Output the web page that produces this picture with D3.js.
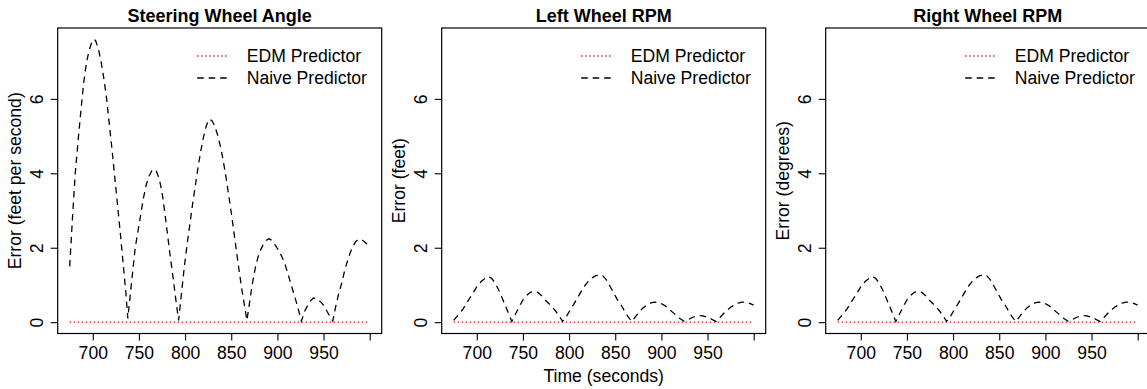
<!DOCTYPE html>
<html>
<head>
<meta charset="utf-8">
<script src="https://cdn.jsdelivr.net/npm/d3@7"></script>
<style>
  body { margin: 0; background: #fff; }
  svg text { font-family: "Liberation Sans", Arial, sans-serif; fill: #000; }
</style>
</head>
<body>
<svg id="chart" width="1147" height="389"></svg>
<script>
// naive predictor error, steering wheel panel
const steerTime = [
  675, 678, 681, 684, 687, 690, 693, 696, 699, 701, 703, 706, 709, 712, 715, 718, 721, 724, 727, 730, 733, 736, 738,
  740, 743, 746, 749, 752, 755, 758, 761, 764, 766, 769, 772, 775, 778, 781, 784, 787, 790, 793,
  796, 799, 802, 805, 808, 811, 814, 817, 820, 823, 826, 829, 832, 835, 838, 841, 844, 847, 850, 853, 856, 859, 862, 865, 867,
  870, 873, 876, 879, 882, 885, 888, 891, 894, 897, 900, 903, 906, 909, 912, 915, 918, 921, 924, 926,
  930, 935, 939, 943, 948, 951, 954, 957, 960,
  963, 966, 970, 973, 976, 979, 982, 985, 988, 991, 994, 997, 1000,
];
const steerNaive = [
  1.5, 2.8, 4.0, 4.85, 5.65, 6.4, 6.95, 7.3, 7.53, 7.6, 7.57, 7.35, 7.0, 6.55, 6.0, 5.3, 4.6, 3.85, 3.1, 2.35, 1.55, 0.75, 0.1,
  0.6, 1.3, 2.0, 2.45, 2.9, 3.35, 3.7, 3.92, 4.07, 4.11, 4.05, 3.85, 3.5, 2.95, 2.35, 1.75, 1.2, 0.6, 0.05,
  0.75, 1.45, 2.05, 2.6, 3.15, 3.65, 4.15, 4.6, 4.98, 5.28, 5.45, 5.42, 5.28, 5.05, 4.75, 4.38, 3.95, 3.45, 2.95, 2.4, 1.85, 1.3, 0.8, 0.35, 0.05,
  0.55, 1.05, 1.45, 1.75, 1.95, 2.1, 2.2, 2.24, 2.2, 2.1, 1.98, 1.85, 1.7, 1.5, 1.25, 1.0, 0.75, 0.5, 0.22, 0.03,
  0.32, 0.55, 0.65, 0.63, 0.52, 0.42, 0.28, 0.15, 0.03,
  0.4, 0.72, 1.08, 1.4, 1.65, 1.87, 2.05, 2.17, 2.23, 2.22, 2.17, 2.1, 2.02,
];

// naive predictor error, wheel rpm panels (left and right look the same)
const wheelTime = [
  675, 680, 685, 690, 695, 700, 705, 710, 713, 716, 720, 724, 728, 732, 735, 738,
  742, 746, 750, 754, 758, 762, 766, 770, 774, 778, 782, 786, 790, 793,
  797, 801, 805, 809, 813, 817, 821, 825, 829, 833, 836, 840, 844, 848, 852, 856, 860, 864, 868,
  872, 876, 880, 884, 888, 892, 896, 900, 904, 908, 912, 916, 920, 925,
  929, 933, 937, 941, 945, 949, 953, 956, 959,
  963, 967, 971, 975, 979, 983, 987, 991, 995, 1000,
];
const leftNaive = [
  0.05, 0.2, 0.35, 0.55, 0.75, 0.95, 1.1, 1.2, 1.22, 1.18, 1.05, 0.85, 0.62, 0.38, 0.2, 0.02,
  0.22, 0.42, 0.6, 0.72, 0.8, 0.83, 0.8, 0.72, 0.6, 0.5, 0.4, 0.28, 0.14, 0.02,
  0.15, 0.32, 0.48, 0.65, 0.82, 0.98, 1.1, 1.19, 1.25, 1.27, 1.26, 1.15, 0.98, 0.8, 0.62, 0.48, 0.3, 0.14, 0.02,
  0.15, 0.28, 0.38, 0.46, 0.51, 0.54, 0.53, 0.5, 0.44, 0.36, 0.27, 0.18, 0.1, 0.02,
  0.07, 0.12, 0.16, 0.18, 0.17, 0.14, 0.1, 0.06, 0.02,
  0.12, 0.22, 0.32, 0.4, 0.46, 0.51, 0.54, 0.54, 0.51, 0.46,
];
const rightNaive = [
  0.05, 0.2, 0.35, 0.55, 0.75, 0.95, 1.1, 1.2, 1.22, 1.18, 1.05, 0.85, 0.62, 0.38, 0.2, 0.02,
  0.22, 0.42, 0.6, 0.72, 0.8, 0.83, 0.8, 0.72, 0.6, 0.5, 0.4, 0.28, 0.14, 0.02,
  0.15, 0.32, 0.48, 0.65, 0.82, 0.98, 1.1, 1.19, 1.25, 1.27, 1.26, 1.15, 0.98, 0.8, 0.62, 0.48, 0.3, 0.14, 0.02,
  0.15, 0.28, 0.38, 0.46, 0.51, 0.54, 0.53, 0.5, 0.44, 0.36, 0.27, 0.18, 0.1, 0.02,
  0.07, 0.12, 0.16, 0.18, 0.17, 0.14, 0.1, 0.06, 0.02,
  0.12, 0.22, 0.32, 0.4, 0.46, 0.51, 0.54, 0.54, 0.51, 0.46,
];

// EDM predictor sits on zero the whole time
const edmTime = [675, 700, 750, 800, 850, 900, 950, 1000];
const edmError = [0, 0, 0, 0, 0, 0, 0, 0];

const titles = ["Steering Wheel Angle", "Left Wheel RPM", "Right Wheel RPM"];
const yLabels = ["Error (feet per second)", "Error (feet)", "Error (degrees)"];
const naiveSeries = [steerNaive, leftNaive, rightNaive];
const naiveTimes = [steerTime, wheelTime, wheelTime];
const xTicks = [700, 750, 800, 850, 900, 950, 1000];
const xTickLabels = ["700", "750", "800", "850", "900", "950", ""];
const yTicks = [0, 2, 4, 6];
const legendNames = ["EDM Predictor", "Naive Predictor"];

const PANEL_LEFT = [57.7, 441.7, 825.7];
const PLOT_W = 324;
const TOP = 28;
const BOTTOM = 333.5;
const TICK = 7;
const FONT = 17.6;
const DASHED = "6.5,5";
const DOTTED = "1.3,2.7";

const svg = d3.select("#chart");

// R style 4% padding on the ranges
const xMin = 675, xMax = 1000;
const xPad = (xMax - xMin) * 0.04;
const yMax = d3.max(naiveSeries.flat());
const yPad = yMax * 0.04;

titles.forEach((title, i) => {
  const left = PANEL_LEFT[i];
  const x = d3.scaleLinear().domain([xMin - xPad, xMax + xPad]).range([left, left + PLOT_W]);
  const y = d3.scaleLinear().domain([-yPad, yMax + yPad]).range([BOTTOM, TOP]);
  const g = svg.append("g");

  // box
  g.append("rect")
    .attr("x", left).attr("y", TOP)
    .attr("width", PLOT_W).attr("height", BOTTOM - TOP)
    .attr("fill", "none").attr("stroke", "#000").attr("stroke-width", 1.2);

  // x axis
  const xAxis = g.append("g")
    .attr("transform", `translate(0,${BOTTOM})`)
    .call(d3.axisBottom(x).tickValues(xTicks).tickSize(TICK).tickPadding(6)
      .tickFormat((d, k) => xTickLabels[k]));
  xAxis.select(".domain").remove();
  xAxis.selectAll("line").attr("stroke", "#000").attr("stroke-width", 1.1);
  xAxis.selectAll("text").attr("font-size", FONT).attr("font-family", null).attr("fill", "#000");

  // y axis, labels turned like R
  const yAxis = g.append("g")
    .attr("transform", `translate(${left},0)`)
    .call(d3.axisLeft(y).tickValues(yTicks).tickSize(TICK).tickFormat(d3.format("d")));
  yAxis.select(".domain").remove();
  yAxis.selectAll("line").attr("stroke", "#000").attr("stroke-width", 1.1);
  yAxis.selectAll("text")
    .attr("font-size", FONT).attr("font-family", null).attr("fill", "#000")
    .attr("x", null).attr("dy", null)
    .attr("text-anchor", "middle")
    .attr("dominant-baseline", "central")
    .attr("transform", "translate(-21,0) rotate(-90)");

  // title and y label
  g.append("text")
    .attr("x", left + PLOT_W / 2).attr("y", 22)
    .attr("text-anchor", "middle")
    .attr("font-size", 18).attr("font-weight", "bold")
    .text(title);

  g.append("text")
    .attr("transform", `translate(${left - 43},${(TOP + BOTTOM) / 2}) rotate(-90)`)
    .attr("text-anchor", "middle")
    .attr("dominant-baseline", "central")
    .attr("font-size", FONT)
    .text(yLabels[i]);

  // lines
  const line = d3.line().x((d) => x(d[0])).y((d) => y(d[1]));

  g.append("path")
    .datum(edmTime.map((t, k) => [t, edmError[k]]))
    .attr("d", line)
    .attr("fill", "none").attr("stroke", "#ff0000")
    .attr("stroke-width", 1.3).attr("stroke-dasharray", DOTTED);

  g.append("path")
    .datum(naiveTimes[i].map((t, k) => [t, naiveSeries[i][k]]))
    .attr("d", line)
    .attr("fill", "none").attr("stroke", "#000")
    .attr("stroke-width", 1.3).attr("stroke-dasharray", DASHED);

  // legend, no box
  const legend = g.selectAll(".legend")
    .data(legendNames)
    .join("g")
    .attr("transform", (d, k) => `translate(${left + 139.5},${56 + k * 22})`);

  legend.append("line")
    .attr("x1", 0).attr("x2", 32)
    .attr("stroke", (d, k) => (k === 0 ? "#ff0000" : "#000"))
    .attr("stroke-width", 1.3)
    .attr("stroke-dasharray", (d, k) => (k === 0 ? DOTTED : DASHED));

  legend.append("text")
    .attr("x", 49.5)
    .attr("dominant-baseline", "central")
    .attr("font-size", FONT)
    .text((d) => d);
});

svg.append("text")
  .attr("x", PANEL_LEFT[1] + PLOT_W / 2).attr("y", 376)
  .attr("text-anchor", "middle")
  .attr("dominant-baseline", "central")
  .attr("font-size", FONT)
  .text("Time (seconds)");
</script>
</body>
</html>
